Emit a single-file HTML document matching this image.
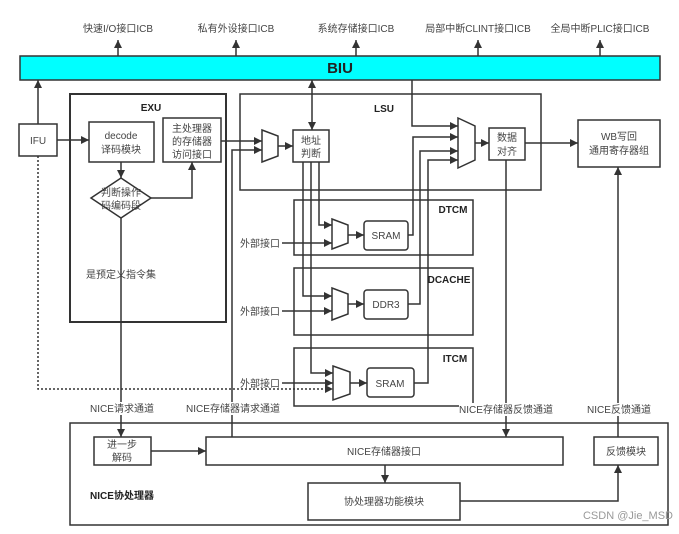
<!DOCTYPE html>
<html><head><meta charset="utf-8"><style>
body{margin:0;background:#fff}
svg text{font-family:"Liberation Sans","Noto Sans CJK SC",sans-serif;fill:#444;font-size:10px}
</style></head><body>
<svg width="679" height="529" viewBox="0 0 679 529" xmlns="http://www.w3.org/2000/svg">
<defs><marker id="a" viewBox="0 0 10 10" refX="10" refY="5" markerWidth="8" markerHeight="8" markerUnits="userSpaceOnUse" orient="auto"><path d="M0,0L10,5L0,10z" fill="#333"/></marker>
<marker id="b" viewBox="0 0 10 10" refX="0" refY="5" markerWidth="8" markerHeight="8" markerUnits="userSpaceOnUse" orient="auto"><path d="M10,0L0,5L10,10z" fill="#333"/></marker></defs>
<g stroke="#333" stroke-width="1.5" fill="none">
<!-- top labels arrows -->
<line x1="118" y1="56" x2="118" y2="40" marker-end="url(#a)"/>
<line x1="236" y1="56" x2="236" y2="40" marker-end="url(#a)"/>
<line x1="356" y1="56" x2="356" y2="40" marker-end="url(#a)"/>
<line x1="478" y1="56" x2="478" y2="40" marker-end="url(#a)"/>
<line x1="600" y1="56" x2="600" y2="40" marker-end="url(#a)"/>
<rect x="20" y="56" width="640" height="24" fill="#00ffff"/>
<!-- boxes -->
<rect x="19" y="124" width="38" height="32"/>
<rect x="70" y="94" width="156" height="228" stroke-width="2"/>
<rect x="89" y="122" width="65" height="40"/>
<rect x="163" y="118" width="58" height="44"/>
<path d="M91,198L121,178L151,198L121,218Z"/>
<rect x="240" y="94" width="301" height="96"/>
<path d="M262,130L278,136L278,156L262,162Z"/>
<rect x="293" y="130" width="36" height="32"/>
<rect x="294" y="200" width="179" height="55"/>
<path d="M332,219L348,225L348,243L332,249Z"/>
<rect x="364" y="221" width="44" height="29" rx="3"/>
<rect x="294" y="268" width="179" height="67"/>
<path d="M332,288L348,294L348,314L332,320Z"/>
<rect x="364" y="290" width="44" height="29" rx="3"/>
<rect x="294" y="348" width="179" height="58"/>
<path d="M333,366L350,372L350,394L333,400Z"/>
<rect x="367" y="368" width="47" height="29" rx="3"/>
<path d="M458,118L475,126L475,160L458,168Z"/>
<rect x="489" y="128" width="36" height="32"/>
<rect x="578" y="120" width="82" height="47"/>
<rect x="70" y="423" width="598" height="102"/>
<rect x="94" y="437" width="57" height="28"/>
<rect x="206" y="437" width="357" height="28"/>
<rect x="308" y="483" width="152" height="37"/>
<rect x="594" y="437" width="64" height="28"/>
<!-- connectors -->
<line x1="38" y1="124" x2="38" y2="80" marker-end="url(#a)"/>
<line x1="57" y1="140" x2="89" y2="140" marker-end="url(#a)"/>
<path d="M38,156V389H333" stroke-dasharray="2,2" marker-end="url(#a)"/>
<line x1="121" y1="162" x2="121" y2="178" marker-end="url(#a)"/>
<path d="M151,198H192V162" marker-end="url(#a)"/>
<line x1="121" y1="218" x2="121" y2="437" marker-end="url(#a)"/>
<line x1="221" y1="141" x2="262" y2="141" marker-end="url(#a)"/>
<path d="M232,437V150H262" marker-end="url(#a)"/>
<line x1="278" y1="146" x2="293" y2="146" marker-end="url(#a)"/>
<line x1="312" y1="130" x2="312" y2="80" marker-start="url(#b)" marker-end="url(#a)"/>
<path d="M319,162V225H332" marker-end="url(#a)"/>
<path d="M303,162V296H332" marker-end="url(#a)"/>
<path d="M311,162V373H333" marker-end="url(#a)"/>
<line x1="282" y1="243" x2="332" y2="243" marker-end="url(#a)"/>
<line x1="282" y1="311" x2="332" y2="311" marker-end="url(#a)"/>
<line x1="282" y1="383" x2="333" y2="383" marker-end="url(#a)"/>
<line x1="348" y1="235" x2="364" y2="235" marker-end="url(#a)"/>
<line x1="348" y1="304" x2="364" y2="304" marker-end="url(#a)"/>
<line x1="350" y1="383" x2="367" y2="383" marker-end="url(#a)"/>
<path d="M408,235H413V137H458" marker-end="url(#a)"/>
<path d="M408,304H420V151H458" marker-end="url(#a)"/>
<path d="M414,383H428V160H458" marker-end="url(#a)"/>
<path d="M412,80V126H458" marker-end="url(#a)"/>
<line x1="475" y1="143" x2="489" y2="143" marker-end="url(#a)"/>
<line x1="525" y1="143" x2="578" y2="143" marker-end="url(#a)"/>
<line x1="506" y1="160" x2="506" y2="437" marker-end="url(#a)"/>
<line x1="618" y1="437" x2="618" y2="167" marker-end="url(#a)"/>
<line x1="151" y1="451" x2="206" y2="451" marker-end="url(#a)"/>
<line x1="385" y1="465" x2="385" y2="483" marker-end="url(#a)"/>
<path d="M460,501H618V465" marker-end="url(#a)"/>
</g>
<g text-anchor="middle">
<text x="118" y="32">快速I/O接口ICB</text>
<text x="236" y="32">私有外设接口ICB</text>
<text x="356" y="32">系统存储接口ICB</text>
<text x="478" y="32">局部中断CLINT接口ICB</text>
<text x="600" y="32">全局中断PLIC接口ICB</text>
<text x="340" y="73" style="font-size:15px;font-weight:bold;fill:#222">BIU</text>
<text x="38" y="144">IFU</text>
<text x="151" y="111" style="font-weight:bold;fill:#222">EXU</text>
<text x="121" y="139">decode</text><text x="121" y="153">译码模块</text>
<text x="192" y="132">主处理器</text><text x="192" y="145">的存储器</text><text x="192" y="158">访问接口</text>
<text x="121" y="196">判断操作</text><text x="121" y="209">码编码段</text>
<text x="121" y="278">是预定义指令集</text>
<text x="384" y="112" style="font-weight:bold;fill:#222">LSU</text>
<text x="311" y="144">地址</text><text x="311" y="157">判断</text>
<text x="453" y="213" style="font-weight:bold;fill:#222">DTCM</text>
<text x="449" y="283" style="font-weight:bold;fill:#222">DCACHE</text>
<text x="455" y="362" style="font-weight:bold;fill:#222">ITCM</text>
<text x="386" y="239">SRAM</text><text x="386" y="308">DDR3</text><text x="390" y="387">SRAM</text>
<text x="260" y="247">外部接口</text><text x="260" y="315">外部接口</text><text x="260" y="387">外部接口</text>
<text x="507" y="141">数据</text><text x="507" y="155">对齐</text>
<text x="619" y="140">WB写回</text><text x="619" y="154">通用寄存器组</text>
<text x="122" y="448">进一步</text><text x="122" y="461">解码</text>
<text x="384" y="455">NICE存储器接口</text>
<text x="384" y="505">协处理器功能模块</text>
<text x="626" y="455">反馈模块</text>
<text x="122" y="499" style="font-weight:bold;fill:#222">NICE协处理器</text>
</g>
<g text-anchor="middle">
<rect x="88" y="402" width="68" height="13" fill="#fff"/><text x="122" y="412">NICE请求通道</text>
<rect x="186" y="402" width="96" height="13" fill="#fff"/><text x="233" y="412">NICE存储器请求通道</text>
<rect x="459" y="403" width="95" height="13" fill="#fff"/><text x="506" y="413">NICE存储器反馈通道</text>
<rect x="586" y="403" width="66" height="13" fill="#fff"/><text x="619" y="413">NICE反馈通道</text>
<text x="628" y="519" style="fill:#999;font-size:11px">CSDN @Jie_MSD</text>
</g>
</svg>
</body></html>
